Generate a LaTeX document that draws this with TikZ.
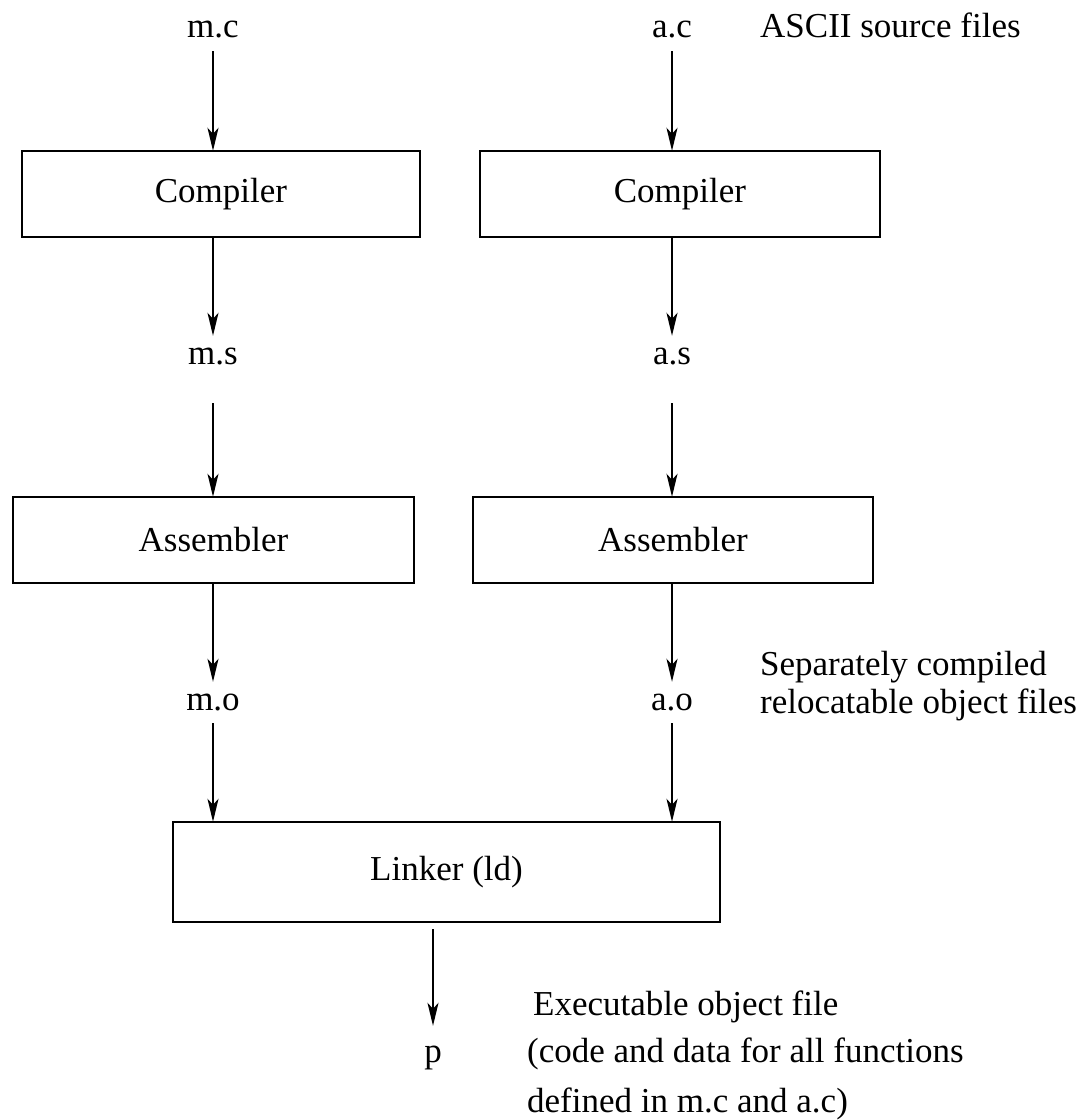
\documentclass[tikz,border=0pt]{standalone}
\usepackage{fontspec}
\setmainfont{Liberation Serif}
\usetikzlibrary{arrows.meta}
\begin{document}
\begin{tikzpicture}[x=1pt,y=-1pt,
  every node/.style={font=\fontsize{35}{41}\selectfont, inner sep=0pt},
  procbox/.style={draw, line width=2.6pt},
  lbl/.style={anchor=base},
  note/.style={anchor=base west},
  arr/.style={line width=2pt, -{Stealth[length=23pt,width=11pt,inset=6pt]}}]
\useasboundingbox (0,0) rectangle (1083,1120);
% source files
\node[lbl, text depth=14pt] (mc) at (213,37) {m.c};
\node[lbl, text depth=14pt] (ac) at (672,37) {a.c};
\node[note] (ascii) at (760,37) {ASCII source files};
% compilers
\draw[procbox] (22,151) rectangle (420,237);
\node[minimum width=398pt, minimum height=86pt] (compL) at (221,194) {Compiler};
\draw[procbox] (480,151) rectangle (880,237);
\node[minimum width=400pt, minimum height=86pt] (compR) at (680,194) {Compiler};
% assembly files
\node[lbl, text height=28pt, text depth=39pt] (ms) at (213,364) {m.s};
\node[lbl, text height=28pt, text depth=39pt] (as) at (672,364) {a.s};
% assemblers
\draw[procbox] (13,497) rectangle (414,583);
\node[minimum width=401pt, minimum height=86pt] (asmL) at (213.5,540) {Assembler};
\draw[procbox] (473,497) rectangle (873,583);
\node[minimum width=400pt, minimum height=86pt] (asmR) at (673,540) {Assembler};
% object files
\node[lbl, text height=28pt, text depth=13pt] (mo) at (213,710) {m.o};
\node[lbl, text height=28pt, text depth=13pt] (ao) at (672,710) {a.o};
\node[note] (sep1) at (760,675) {Separately compiled};
\node[note] (sep2) at (760,713) {relocatable object files};
% linker
\draw[procbox] (173,822) rectangle (720,922);
\node[minimum width=547pt, minimum height=100pt] (link) at (446.5,872) {Linker (ld)};
% executable
\node[lbl, text height=36pt] (p) at (433,1062) {p};
\node[note] (ex1) at (533,1015) {Executable object file};
\node[note] (ex2) at (527,1062) {(code and data for all functions};
\node[note] (ex3) at (527,1112) {defined in m.c and a.c)};
% connectors
\draw[arr] (mc.south) -- (mc.south |- compL.north);
\draw[arr] (ac.south) -- (ac.south |- compR.north);
\draw[arr] (ms.north |- compL.south) -- (ms.north);
\draw[arr] (as.north |- compR.south) -- (as.north);
\draw[arr] (ms.south) -- (ms.south |- asmL.north);
\draw[arr] (as.south) -- (as.south |- asmR.north);
\draw[arr] (mo.north |- asmL.south) -- (mo.north);
\draw[arr] (ao.north |- asmR.south) -- (ao.north);
\draw[arr] (mo.south) -- (mo.south |- link.north);
\draw[arr] (ao.south) -- (ao.south |- link.north);
\draw[arr, shorten <=7pt] (p.north |- link.south) -- (p.north);
\end{tikzpicture}
\end{document}
